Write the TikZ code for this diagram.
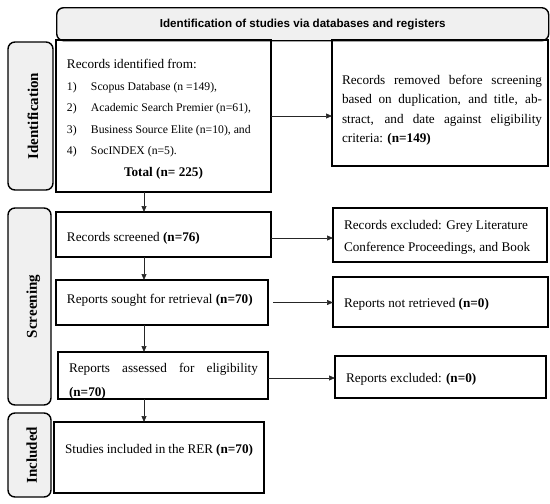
\documentclass[tikz,border=0pt]{standalone}
\usepackage{fontspec}
\setmainfont{Liberation Serif}
\newfontfamily\hdrfont{Liberation Sans}
\usetikzlibrary{arrows.meta}
\definecolor{panelgray}{HTML}{F0F0F0}
\newcommand{\flowbox}[9]{%
  \node[flowrect, minimum width=#4pt, minimum height=#5pt] (#1) at (#2,#3)
    {\makebox[#4pt][l]{\hspace*{#6pt}\parbox[c][#5pt][t]{#8pt}{\vspace*{#7pt}#9}}};}
\newcommand{\itm}[1]{\makebox[24pt][l]{#1}}
\begin{document}
\begin{tikzpicture}[x=1pt,y=-1pt,
  flowrect/.style={draw, line width=1.4pt, inner sep=0pt, outer sep=0pt, anchor=north west},
  sidelabel/.style={draw, line width=1.4pt, rounded corners=7pt, fill=panelgray, rotate=90,
    inner sep=0pt, text height=15pt, text depth=0pt, font=\fontsize{15}{18}\selectfont\bfseries},
  headbox/.style={draw, line width=1.4pt, rounded corners=7pt, fill=panelgray, inner sep=0pt,
    anchor=north west, font=\hdrfont\fontsize{11.6}{14}\selectfont\bfseries},
  arr/.style={-{Triangle[length=6pt,width=5pt]}, line width=0.7pt, black!85}]
\useasboundingbox (0,0) rectangle (550,504);
% header
\node[headbox, minimum width=492pt, minimum height=33pt] (hdr) at (56,7)
  {Identification of studies via databases and registers};
% side labels
\node[sidelabel, minimum width=148pt, minimum height=45pt] (lid) at (30.5,116) {Identification};
\node[sidelabel, minimum width=197pt, minimum height=43pt] (lsc) at (29.5,306.5) {Screening};
\node[sidelabel, minimum width=84pt, minimum height=43pt] (lin) at (29.5,455) {Included};
% boxes
\flowbox{rid}{56}{40}{215}{152}{11}{19.5}{193}{\fontsize{13.2}{21.5}\selectfont
  Records identified from:\\
  {\fontsize{11.7}{21.5}\selectfont
  \itm{1)}Scopus Database (n =149),\\
  \itm{2)}Academic Search Premier (n=61),\\
  \itm{3)}Business Source Elite (n=10), and\\
  \itm{4)}SocINDEX (n=5).\\}
  \makebox[\linewidth][c]{\textbf{Total (n= 225)}}}
\flowbox{rrm}{332}{40}{216}{126}{10}{35.4}{200}{\fontsize{13.2}{19.2}\selectfont
  Records removed before screening\linebreak based on duplication, and title, ab-\linebreak stract, and date against eligibility\linebreak criteria: \textbf{(n=149)}}
\flowbox{rsc}{56}{212}{215}{45}{11}{20.3}{193}{\fontsize{13.2}{16}\selectfont
  Records screened \textbf{(n=76)}}
\flowbox{rex}{333}{208}{214}{54}{11}{12.4}{192}{\fontsize{13.2}{22}\selectfont
  Records excluded: Grey Literature\\Conference Proceedings, and Book}
\flowbox{rso}{56}{280}{212}{45}{11}{14.3}{190}{\fontsize{13.2}{16}\selectfont
  Reports sought for retrieval \textbf{(n=70)}}
\flowbox{rnr}{333}{277}{215}{50}{11}{21.3}{193}{\fontsize{13.2}{16}\selectfont
  Reports not retrieved \textbf{(n=0)}}
\flowbox{ras}{58}{352}{210}{47}{11}{11.4}{189}{\fontsize{13.2}{24}\selectfont
  Reports assessed for eligibility\linebreak\textbf{(n=70)}}
\flowbox{rre}{335}{356}{211}{42}{11}{17.3}{189}{\fontsize{13.2}{16}\selectfont
  Reports excluded: \textbf{(n=0)}}
\flowbox{sin}{54}{422}{210}{71}{11}{22.3}{188}{\fontsize{13.2}{16}\selectfont
  Studies included in the RER \textbf{(n=70)}}
% connectors
\coordinate (dx) at (144,0);
\draw[arr] (rid.south -| dx) -- (rsc.north -| dx);
\draw[arr] (rsc.south -| dx) -- (rso.north -| dx);
\draw[arr] (rso.south -| dx) -- (ras.north -| dx);
\draw[arr] (ras.south -| dx) -- (sin.north -| dx);
\draw[arr] (rid.east) -- (rid.east -| rrm.west);
\draw[arr] ([yshift=-3.5pt]rsc.east) -- ([yshift=-3.5pt]rsc.east -| rex.west);
\draw[arr] ([xshift=5pt]rso.east) -- (rso.east -| rnr.west);
\draw[arr] ([yshift=-2.5pt]ras.east) -- ([yshift=-2.5pt]ras.east -| rre.west);
\end{tikzpicture}
\end{document}
